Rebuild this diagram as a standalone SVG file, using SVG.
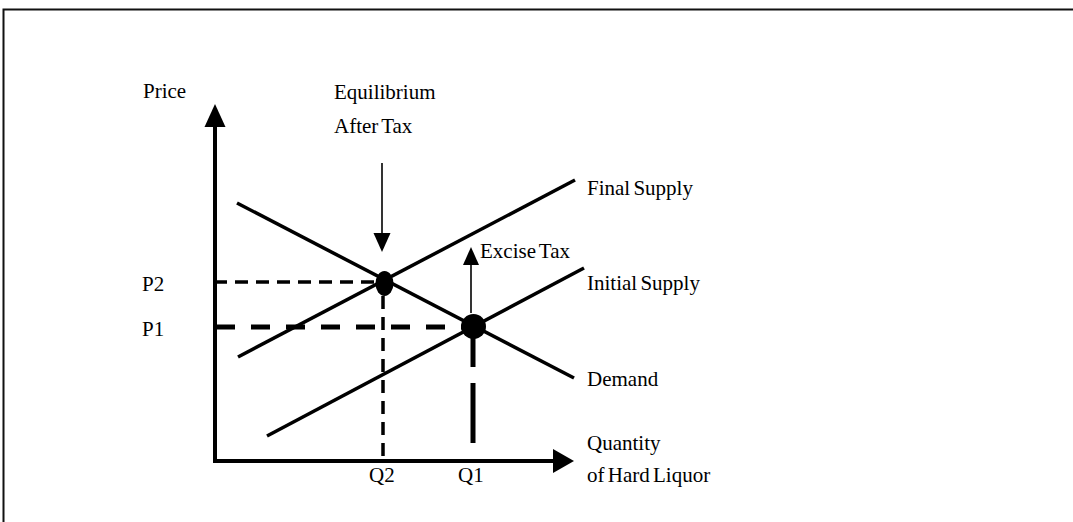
<svg xmlns="http://www.w3.org/2000/svg" width="1073" height="522" viewBox="0 0 1073 522">
<style>
text{font-family:"Liberation Serif","Times New Roman",serif;font-size:21px;fill:#000;word-spacing:-2px}
.axis{stroke:#000;stroke-width:4;fill:none}
.curve{stroke:#000;stroke-width:3.5;fill:none;stroke-linecap:butt}
.thin{stroke:#000;stroke-width:1.6;fill:none}
.d1{stroke:#000;stroke-width:3.5;stroke-dasharray:13 8;fill:none}
.d2{stroke:#000;stroke-width:5;stroke-dasharray:19 16;fill:none}
</style>
<rect width="1073" height="522" fill="#fff"/>
<path d="M3.5,522 V9.5 H1073" fill="none" stroke="#111" stroke-width="2"/>
<g id="connectors">
<line class="axis" x1="215" y1="462" x2="215" y2="124"/>
<polygon points="215,104 204.5,127 225.5,127"/>
<line class="axis" x1="213" y1="461" x2="555" y2="461"/>
<polygon points="574,461 553,449 553,473"/>
<line class="d1" x1="214" y1="282" x2="376" y2="282"/>
<line class="d2" x1="216" y1="327" x2="462" y2="327"/>
<line class="d1" x1="383" y1="296" x2="383" y2="457"/>
<line class="d2" x1="473" y1="443" x2="473" y2="336" style="stroke-dasharray:60 16 40 30"/>
<line class="thin" x1="382" y1="163" x2="382" y2="236"/>
<polygon points="382,252 373.5,233 390.5,233"/>
<line class="thin" x1="471" y1="313" x2="471" y2="262"/>
<polygon points="471,247 463,265 479,265"/>
</g>
<g id="demand"><line class="curve" x1="237" y1="203" x2="574" y2="378"/><text x="587" y="386">Demand</text></g>
<g id="initial-supply"><line class="curve" x1="267" y1="436" x2="584" y2="268"/><text x="587" y="290">Initial Supply</text></g>
<g id="final-supply"><line class="curve" x1="238" y1="357" x2="575" y2="180"/><text x="587" y="195">Final Supply</text></g>
<g id="eq-after-tax"><ellipse cx="384.5" cy="283.5" rx="9" ry="12.5"/><text x="334" y="99">Equilibrium</text><text x="334" y="133">After Tax</text></g>
<g id="eq-initial"><circle cx="473.5" cy="326.5" r="12.5"/></g>
<g id="excise-tax"><text x="480" y="258">Excise Tax</text></g>
<g id="price-axis"><text x="143" y="98">Price</text><text x="142" y="291">P2</text><text x="142" y="336">P1</text></g>
<g id="quantity-axis"><text x="369" y="482">Q2</text><text x="458" y="482">Q1</text><text x="587" y="450">Quantity</text><text x="587" y="482">of Hard Liquor</text></g>
</svg>
